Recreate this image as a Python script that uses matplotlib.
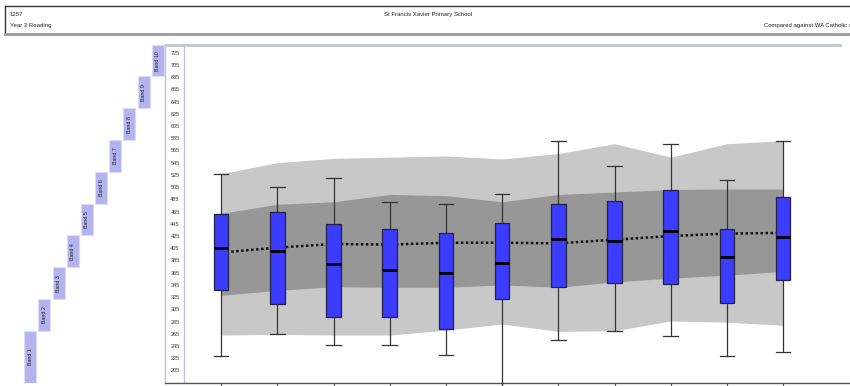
import matplotlib
matplotlib.use("Agg")
import matplotlib.pyplot as plt
from matplotlib.patches import Rectangle

plt.rcParams['font.family'] = ['Liberation Sans', 'DejaVu Sans']

# ---- data -------------------------------------------------------------
positions = [1, 2, 3, 4, 5, 6, 7, 8, 9, 10, 11]
whisker_low = [228, 264, 246, 247, 231, 178, 255, 269, 262, 228, 235]
q1 = [337, 314, 293, 292, 273, 322, 342, 348, 346, 316, 353]
median = [406, 400, 379, 370, 364, 381, 420, 417, 433, 391, 423]
q3 = [461, 464, 444, 436, 430, 446, 478, 482, 501, 437, 489]
whisker_high = [527, 506, 520, 481, 478, 493, 580, 540, 575, 516, 580]

mean_line = [398, 406, 412, 411, 414, 414, 413, 419, 425, 429, 430]

outer_low = [263, 264, 263, 263, 271, 281, 269, 270, 286, 284, 279]
inner_low = [328, 336, 342, 341, 341, 345, 341, 350, 356, 361, 367]
inner_high = [462, 477, 481, 493, 491, 481, 493, 497, 501, 502, 502]
outer_high = [527, 545, 552, 554, 556, 551, 560, 576, 554, 576, 581]

band_names = ["Band 1", "Band 2", "Band 3", "Band 4", "Band 5",
              "Band 6", "Band 7", "Band 8", "Band 9", "Band 10"]
band_edges = [185, 270, 322, 374, 426, 478, 530, 582, 634, 686, 738]

ytick_values = list(range(205, 726, 20))

header_code = "1257"
header_test = "Year 3 Reading"
header_school = "St Francis Xavier Primary School"
header_compare = "Compared against WA Catholic schools"

# ---- figure -----------------------------------------------------------
W, H = 850, 386
fig = plt.figure(figsize=(W / 100, H / 100), dpi=100)


def px_rect(x0, y0, x1, y1):
    """Axes rectangle from pixel coordinates (origin top-left)."""
    return [x0 / W, 1 - y1 / H, (x1 - x0) / W, (y1 - y0) / H]


# header strip
hdr = fig.add_axes([0, 0, 1, 1])
hdr.set_xlim(0, W)
hdr.set_ylim(H, 0)
hdr.axis("off")
hdr.plot([4.7, W + 5], [5.7, 5.7], color="#333333", lw=1.0)
hdr.plot([4.7, 4.7], [5.7, 33.7], color="#333333", lw=1.0)
hdr.plot([4.7, W + 5], [33.7, 33.7], color="#9a9a9a", lw=2.0)
hdr.text(10, 14.3, header_code, fontsize=4.3, va="center", ha="left", color="#222222")
hdr.text(10, 25.3, header_test, fontsize=4.3, va="center", ha="left", color="#222222")
hdr.text(428, 14.3, header_school, fontsize=4.3, va="center", ha="center", color="#222222")
hdr.text(764, 25.3, header_compare, fontsize=4.3, va="center", ha="left", color="#222222")

# main chart
ax = fig.add_axes(px_rect(165, 44.7, 850, 382.7))
ax.set_xlim(0, 12.19)
ax.set_ylim(185, 738)

ax.fill_between(positions, outer_low, outer_high, color="#c8c8c8", lw=0, zorder=1)
ax.fill_between(positions, inner_low, inner_high, color="#979797", lw=0, zorder=2)

ax.plot(positions, mean_line, color="#111111", lw=1.8, ls=(0, (1, 1)), zorder=3)

box_w = 0.26
stats = []
for i in range(len(positions)):
    stats.append(dict(whislo=whisker_low[i], q1=q1[i], med=median[i],
                      q3=q3[i], whishi=whisker_high[i], fliers=[]))
bp = ax.bxp(stats, positions=positions, widths=box_w, patch_artist=True,
            showfliers=False, manage_ticks=False,
            boxprops=dict(facecolor="#3c3cff", edgecolor="#222244", lw=0.9),
            medianprops=dict(color="#000000", lw=2.0),
            whiskerprops=dict(color="#333333", lw=0.9),
            capprops=dict(color="#333333", lw=0.9),
            capwidths=box_w)
for art in bp["boxes"] + bp["medians"]:
    art.set_zorder(5)
for art in bp["whiskers"] + bp["caps"]:
    art.set_zorder(4)
    art.set_clip_on(False)

# frame
for side in ("top", "right"):
    ax.spines[side].set_visible(False)
ax.spines["left"].set_color("#c0c4cc")
ax.spines["left"].set_linewidth(1.0)
ax.spines["bottom"].set_color("#555555")
ax.spines["bottom"].set_linewidth(1.0)
ax.axhline(738, xmin=0, xmax=0.985, color="#c0c4cc", lw=2.0, clip_on=False)
ax.axvline(0.338, color="#c0c4cc", lw=1.0)

ax.set_xticks(positions)
ax.set_xticklabels([])
ax.tick_params(axis="x", direction="out", length=3, width=0.8, color="#555555")

ax.set_yticks(ytick_values)
ax.set_yticklabels([str(v) for v in ytick_values])
ax.tick_params(axis="y", length=0, pad=-7.2, labelsize=4.0, labelcolor="#333333")
for lbl in ax.get_yticklabels():
    lbl.set_horizontalalignment("center")

# band staircase on the left
bax = fig.add_axes(px_rect(0, 44.7, 165, 382.7), sharey=ax)
bax.set_xlim(0, 165)
bax.axis("off")
for n, name in enumerate(band_names):
    x0 = 24.3 + n * 14.15
    lo, hi = band_edges[n], band_edges[n + 1]
    bax.add_patch(Rectangle((x0, lo), 12, hi - lo, facecolor="#b3b3f0",
                            edgecolor="#dcdcf8", lw=0.8))
    bax.text(x0 + 6, (lo + hi) / 2, name, rotation=90, fontsize=3.8,
             ha="center", va="center", color="#222222")

fig.savefig("out.png", dpi=100)
